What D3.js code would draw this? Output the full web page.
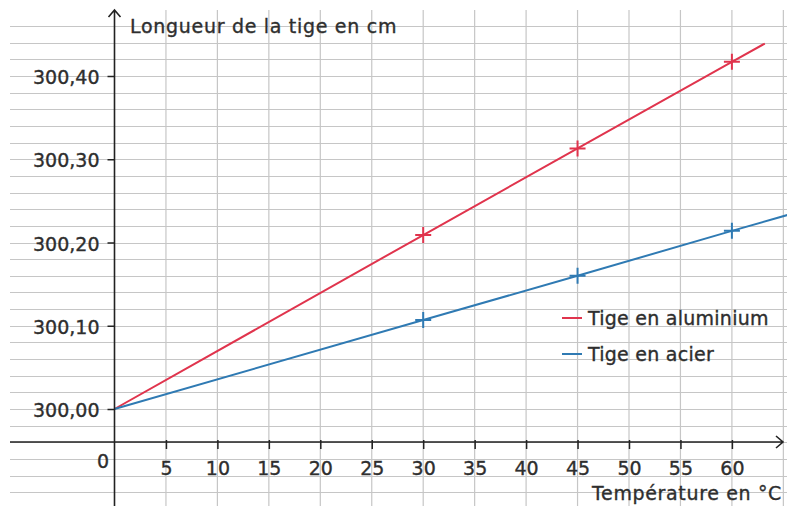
<!DOCTYPE html>
<html><head><meta charset="utf-8">
<script src="https://cdn.jsdelivr.net/npm/d3@7"></script>
<style>body{margin:0;background:#fff}svg{display:block}text{font-family:"DejaVu Sans",sans-serif;fill:#2e2e2e;stroke:#2e2e2e;stroke-width:0.35px}</style>
</head><body><svg id="c" width="787" height="506"></svg>
<script>
const temps = [0, 30, 45, 60];
const aluminium = [300.000, 300.209, 300.313, 300.417];
const acier = [300.000, 300.107, 300.160, 300.214];
const aluminiumEnd = [63.2, 300.439];
const acierEnd = [65.4, 300.233];
const xTicks = [5,10,15,20,25,30,35,40,45,50,55,60];
const yTicks = [300.00, 300.10, 300.20, 300.30, 300.40];
const series = [
  {name:"Tige en aluminium", values: aluminium, end: aluminiumEnd, color:"#e0344d"},
  {name:"Tige en acier", values: acier, end: acierEnd, color:"#2f7ab3"}
];

const svg = d3.select("#c");
const x = d3.scaleLinear().domain([0,65]).range([114.5, 114.5+65*10.29]);
const y = d3.scaleLinear().domain([300.00,300.40]).range([409,76]);
const axisY = 442;

// grid
const g = svg.append("g");
const hVals = d3.range(-5, 24).map(k => 300 + k*0.02);
g.selectAll("line.h").data(hVals).enter().append("line")
  .attr("x1",10).attr("x2",787).attr("y1",d=>Math.round(y(d))+0.5).attr("y2",d=>Math.round(y(d))+0.5)
  .attr("stroke","#c6c6c6").attr("stroke-width",1.2);
const vVals = d3.range(5, 70, 5);
g.selectAll("line.v").data(vVals).enter().append("line")
  .attr("x1",d=>x(d)).attr("x2",d=>x(d)).attr("y1",10).attr("y2",506)
  .attr("stroke","#c6c6c6").attr("stroke-width",1.2);

// series lines
const line = d3.line().x(d=>x(d[0])).y(d=>y(d[1]));
series.forEach(s => {
  const pts = temps.map((t,i)=>[t, s.values[i]]).concat([s.end]);
  svg.append("path").attr("d", line(pts)).attr("fill","none")
    .attr("stroke", s.color).attr("stroke-width",2);
  const m = 8;
  temps.slice(1).forEach((t,i) => {
    const cx = x(t), cy = y(s.values[i+1]);
    svg.append("path").attr("d",`M${cx-m},${cy}H${cx+m}M${cx},${cy-m}V${cy+m}`)
      .attr("stroke", s.color).attr("stroke-width",2);
  });
});

// axes lines with arrows
const ax = svg.append("g").attr("stroke","#222").attr("stroke-width",1.6).attr("fill","none");
ax.append("path").attr("d",`M${x(0)},506V10M${x(0)-6},17L${x(0)},10L${x(0)+6},17`);
ax.append("path").attr("d",`M10,${axisY}H783M776,${axisY-6}L783,${axisY}L776,${axisY+6}`);

// y axis ticks
const yAxis = d3.axisLeft(y).tickValues(yTicks).tickSize(7).tickPadding(8)
  .tickFormat(d => d3.format(".2f")(d).replace(".", ","));
const gy = svg.append("g").attr("transform",`translate(${x(0)},0)`).call(yAxis);
gy.select(".domain").remove();
gy.selectAll("line").attr("stroke","#222").attr("stroke-width",1.5);
gy.selectAll("text").attr("font-size",19).attr("fill","#2e2e2e").attr("font-family","DejaVu Sans").attr("dy","0.4em");

// x axis ticks
const xAxis = d3.axisBottom(x).tickValues(xTicks).tickSize(7).tickPadding(13);
const gx = svg.append("g").attr("transform",`translate(0,${axisY})`).call(xAxis);
gx.select(".domain").remove();
gx.selectAll("line").attr("stroke","#222").attr("stroke-width",1.5).attr("y1",-2);
gx.selectAll("text").attr("font-size",19).attr("fill","#2e2e2e").attr("font-family","DejaVu Sans");

svg.append("text").attr("x",103).attr("y",468).attr("text-anchor","middle").attr("font-size",19).text("0");

// axis titles
svg.append("text").attr("x",130).attr("y",33).attr("font-size",19).attr("letter-spacing",0.7).text("Longueur de la tige en cm");
svg.append("text").attr("x",782).attr("y",500).attr("text-anchor","end").attr("font-size",19).attr("letter-spacing",0.65).text("Température en °C");

// legend
const leg = svg.append("g");
series.forEach((s,i) => {
  const ly = 318 + i*36;
  leg.append("line").attr("x1",562).attr("x2",582).attr("y1",ly).attr("y2",ly)
    .attr("stroke",s.color).attr("stroke-width",2);
  leg.append("text").attr("x",588).attr("y",ly+7).attr("font-size",19).attr("letter-spacing",0.25).text(s.name);
});
</script></body></html>
